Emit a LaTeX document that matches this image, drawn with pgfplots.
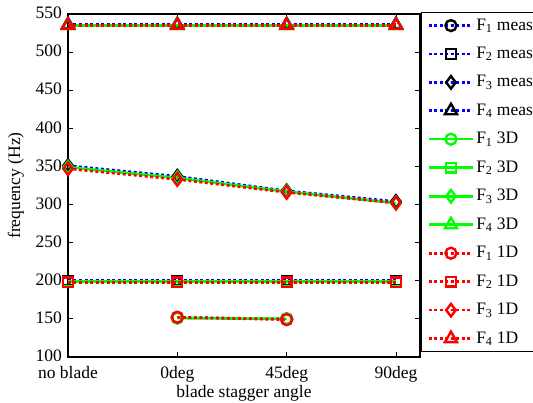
\documentclass[border=0pt]{standalone}
\usepackage{fontspec}
\setmainfont{Liberation Serif}
\usepackage{pgfplots}
\pgfplotsset{compat=1.18}

\definecolor{mblue}{RGB}{0,0,255}
\definecolor{mgreen}{RGB}{0,255,0}
\definecolor{mred}{RGB}{255,0,0}

% legend entry: F_n followed by the source name
\newcommand\Fn[2]{F\textsubscript{#1} #2\hspace*{10pt}}

\pgfplotsset{
  meas/.style={mblue, line width=2.6pt, dash pattern=on 3pt off 2.5pt,
    mark options={solid, draw=black, fill=white, line width=2.4pt}},
  threeD/.style={mgreen, line width=2.6pt, solid,
    mark options={solid, draw=mgreen, fill=white, line width=2.4pt}},
  oneD/.style={mred, line width=2.6pt, dash pattern=on 3pt off 2.5pt,
    mark options={solid, draw=mred, fill=white, line width=2.4pt}},
  mcirc/.style={mark=o, mark size=5.5pt},
  msq/.style={mark=square, mark size=4.8pt},
  mdia/.style={mark=diamond, mark size=6.3pt},
  mtri/.style={mark=triangle, mark size=7pt},
}

\begin{document}
\fontsize{17.5}{20}\selectfont
\begin{tikzpicture}[x=1pt,y=1pt]
\begin{axis}[
  at={(68pt,-357pt)}, anchor=south west,
  scale only axis, width=352pt, height=343pt,
  xmin=0, xmax=3.22, ymin=100, ymax=550,
  xtick={0,1,2,3}, xticklabels={no blade,0deg,45deg,90deg},
  ytick={100,150,...,550},
  yticklabel={\pgfmathprintnumber[assume math mode=true]{\tick}},
  tick align=inside, major tick length=5pt,
  axis line style={line width=1.2pt},
  every tick/.style={black, line width=0.8pt},
  tick label style={font=\fontsize{17.5}{20}\selectfont},
  xticklabel style={yshift=-3pt},
  yticklabel style={yshift=1pt},
  label style={font=\fontsize{17.5}{20}\selectfont},
  xlabel={blade stagger angle},
  ylabel={frequency (Hz)},
  xlabel style={at={(axis description cs:0.5,0)}, anchor=base, yshift=-40.5pt},
  clip=false,
  legend cell align=left,
  legend style={at={(1.003,1.006)}, anchor=north west, draw=black,
    line width=1.2pt, font=\fontsize{17.5}{20}\selectfont,
    row sep=10.3pt, inner xsep=6pt, inner ysep=4pt},
  legend image code/.code={
    \draw[mark repeat=2, mark phase=2, #1]
      plot coordinates {(0pt,0pt) (22pt,0pt) (44pt,0pt)};
  },
]
% measured
\addplot[meas, mcirc] coordinates {(1,152) (2,150)};
\addplot[meas, msq]   coordinates {(0,200) (1,200) (2,200) (3,200)};
\addplot[meas, mdia]  coordinates {(0,351) (1,337) (2,318) (3,304)};
\addplot[meas, mtri]  coordinates {(0,536) (1,536) (2,536) (3,536)};
% 3D model
\addplot[threeD, mcirc] coordinates {(1,151) (2,150)};
\addplot[threeD, msq]   coordinates {(0,199) (1,199) (2,199) (3,199)};
\addplot[threeD, mdia]  coordinates {(0,349) (1,335) (2,317) (3,302)};
\addplot[threeD, mtri]  coordinates {(0,535) (1,535) (2,535) (3,535)};
% 1D model
\addplot[oneD, mcirc] coordinates {(1,152) (2,149)};
\addplot[oneD, msq]   coordinates {(0,198) (1,198) (2,198) (3,198)};
\addplot[oneD, mdia]  coordinates {(0,347) (1,333) (2,316) (3,302)};
\addplot[oneD, mtri]  coordinates {(0,535) (1,535) (2,535) (3,535)};
\legend{\Fn{1}{meas}, \Fn{2}{meas}, \Fn{3}{meas}, \Fn{4}{meas},
  \Fn{1}{3D}, \Fn{2}{3D}, \Fn{3}{3D}, \Fn{4}{3D},
  \Fn{1}{1D}, \Fn{2}{1D}, \Fn{3}{1D}, \Fn{4}{1D}}
\end{axis}
\pgfresetboundingbox
\path[use as bounding box] (0pt,0pt) rectangle (533pt,-402pt);
\end{tikzpicture}
\end{document}
